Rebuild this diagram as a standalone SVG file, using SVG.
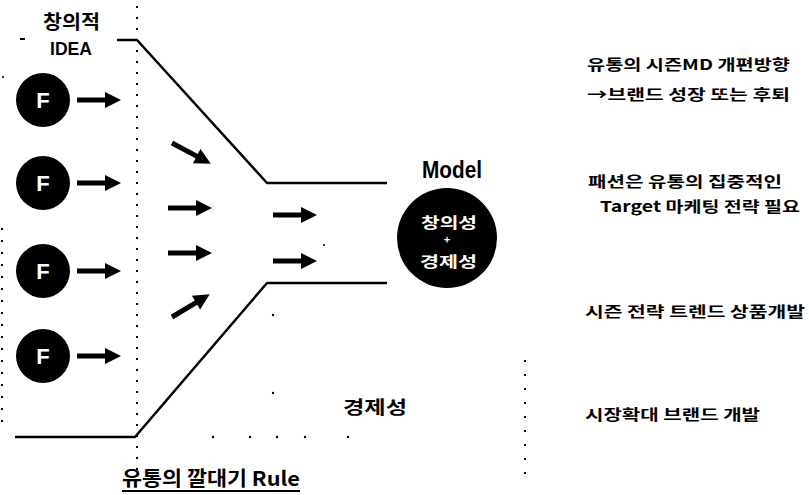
<svg xmlns="http://www.w3.org/2000/svg" width="809" height="495" viewBox="0 0 809 495">
<style>
.ko{font-family:"Noto Sans CJK KR","Liberation Sans",sans-serif;font-weight:bold;fill:#000}
.en{font-family:"Liberation Sans","Noto Sans CJK KR",sans-serif;font-weight:bold;fill:#000}
.wt{fill:#fff}
.fun{fill:none;stroke:#000;stroke-width:2.5;stroke-linejoin:round}
.dot{fill:none;stroke:#000;stroke-width:2}
.fc{fill:#000}
.ft{font-family:"Liberation Sans",sans-serif;font-weight:bold;font-size:22px;fill:#fff;text-anchor:middle}
</style>
<defs>
<g id="arr"><rect x="0" y="-2.5" width="30" height="5"/><polygon points="28,-8 44,0 28,8"/></g>
</defs>
<rect width="809" height="495" fill="#fff"/>
<!-- dotted guides -->
<g id="guides">
<line class="dot" x1="137" y1="6" x2="137" y2="472" stroke-dasharray="2 9"/>
<line class="dot" x1="2" y1="228" x2="2" y2="425" stroke-dasharray="2 10" stroke-width="1.5"/>
<line class="dot" x1="525" y1="360" x2="525" y2="476" stroke-dasharray="2 12" stroke-width="1.5"/>
<g fill="#000"><circle cx="213" cy="437" r="1.2"/><circle cx="250" cy="437" r="1.2"/><circle cx="277" cy="437" r="1.2"/><circle cx="305" cy="437" r="1.2"/><circle cx="348" cy="437" r="1.2"/><circle cx="273" cy="393" r="1.2"/><circle cx="273" cy="315" r="1.2"/><circle cx="324" cy="245" r="1"/><circle cx="3" cy="77" r="1"/></g>
<line x1="20" y1="39" x2="25" y2="39" stroke="#000" stroke-width="2"/>
</g>
<!-- connectors -->
<g id="connectors">
<polyline class="fun" points="117,40 137,40 267,183 387,183"/>
<polyline class="fun" points="15,437 135,437 267,283 387,283"/>
<use href="#arr" transform="translate(77,100)"/>
<use href="#arr" transform="translate(77,183)"/>
<use href="#arr" transform="translate(77,271)"/>
<use href="#arr" transform="translate(77,356)"/>
<use href="#arr" transform="translate(172,143) rotate(28)"/>
<use href="#arr" transform="translate(168,208)"/>
<use href="#arr" transform="translate(168,253)"/>
<use href="#arr" transform="translate(172,317) rotate(-31)"/>
<use href="#arr" transform="translate(273,215)"/>
<use href="#arr" transform="translate(273,261)"/>
</g>
<!-- F nodes -->
<g id="f1"><circle class="fc" cx="43" cy="100" r="27"/><text class="ft" x="43" y="108">F</text></g>
<g id="f2"><circle class="fc" cx="43" cy="183" r="27"/><text class="ft" x="43" y="191">F</text></g>
<g id="f3"><circle class="fc" cx="43" cy="271" r="27"/><text class="ft" x="43" y="279">F</text></g>
<g id="f4"><circle class="fc" cx="43" cy="356" r="27"/><text class="ft" x="43" y="364">F</text></g>
<!-- idea label -->
<g id="idea">
<text class="ko" x="43" y="29" font-size="19" textLength="57" lengthAdjust="spacingAndGlyphs">창의적</text>
<text class="en" x="50" y="55" font-size="18" textLength="42" lengthAdjust="spacingAndGlyphs">IDEA</text>
</g>
<!-- model -->
<g id="model">
<text class="en" x="422" y="178" font-size="23" textLength="60" lengthAdjust="spacingAndGlyphs">Model</text>
<circle class="fc" cx="447" cy="238" r="50"/>
<text class="ko wt" x="421" y="228" font-size="15" textLength="56" lengthAdjust="spacingAndGlyphs">창의성</text>
<text class="ko wt" x="447" y="244" font-size="11" text-anchor="middle">+</text>
<text class="ko wt" x="420" y="267" font-size="15" textLength="57" lengthAdjust="spacingAndGlyphs">경제성</text>
</g>
<g id="econ"><text class="ko" x="343" y="414" font-size="18" textLength="64" lengthAdjust="spacingAndGlyphs">경제성</text></g>
<g id="title">
<text class="ko" x="122" y="486" font-size="20" textLength="178" lengthAdjust="spacingAndGlyphs">유통의 깔대기 Rule</text>
<line x1="122" y1="491" x2="300" y2="491" stroke="#000" stroke-width="2"/>
</g>
<!-- right notes -->
<g id="notes">
<text class="ko" x="587" y="70" font-size="15" textLength="203" lengthAdjust="spacingAndGlyphs">유통의 시즌MD 개편방향</text>
<text class="ko" x="587" y="100" font-size="15" textLength="203" lengthAdjust="spacingAndGlyphs">→브랜드 성장 또는 후퇴</text>
<text class="ko" x="588" y="187" font-size="15" textLength="194" lengthAdjust="spacingAndGlyphs">패션은 유통의 집중적인</text>
<text class="ko" x="600" y="212" font-size="15" textLength="200" lengthAdjust="spacingAndGlyphs">Target 마케팅 전략 필요</text>
<text class="ko" x="585" y="317" font-size="15" textLength="220" lengthAdjust="spacingAndGlyphs">시즌 전략 트렌드 상품개발</text>
<text class="ko" x="585" y="420" font-size="15" textLength="175" lengthAdjust="spacingAndGlyphs">시장확대 브랜드 개발</text>
</g>
</svg>
